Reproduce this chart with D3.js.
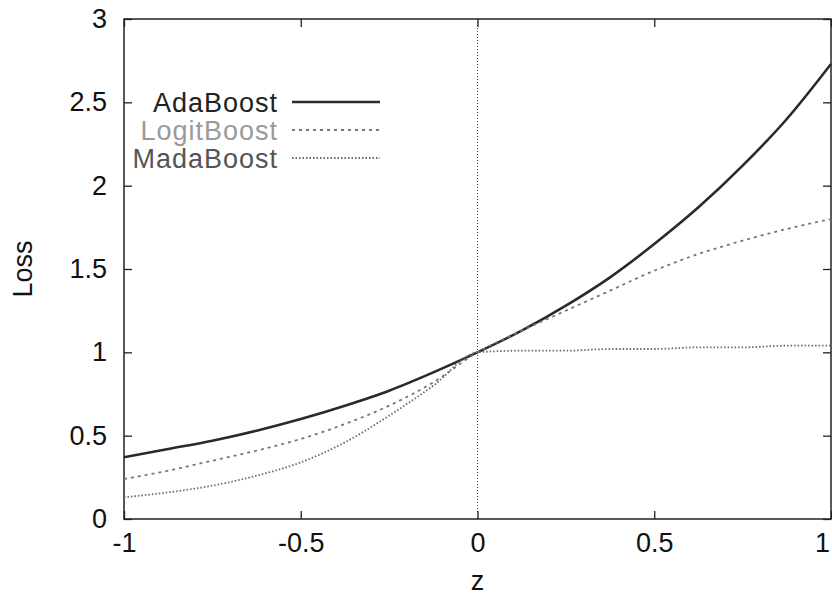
<!DOCTYPE html>
<html>
<head>
<meta charset="utf-8">
<script src="https://cdn.jsdelivr.net/npm/d3@7"></script>
<style>
  body { margin: 0; background: #fff; }
  text { font-family: "Liberation Sans", Arial, sans-serif; }
</style>
</head>
<body>
<div id="chart"></div>
<script>
// values
var zValues = [-1, -0.875, -0.75, -0.625, -0.5, -0.375, -0.25, -0.125, 0, 0.125, 0.25, 0.375, 0.5, 0.625, 0.75, 0.875, 1];
var adaBoost = [0.37, 0.42, 0.47, 0.53, 0.60, 0.68, 0.77, 0.88, 1.0, 1.13, 1.28, 1.45, 1.65, 1.87, 2.12, 2.40, 2.73];
var logitBoost = [0.24, 0.29, 0.35, 0.41, 0.48, 0.57, 0.68, 0.82, 1.0, 1.13, 1.25, 1.37, 1.49, 1.59, 1.67, 1.74, 1.80];
var madaBoost = [0.13, 0.16, 0.20, 0.26, 0.34, 0.46, 0.62, 0.80, 1.0, 1.01, 1.01, 1.02, 1.02, 1.03, 1.03, 1.04, 1.04];
var xTicks = [-1, -0.5, 0, 0.5, 1];
var yTicks = [0, 0.5, 1, 1.5, 2, 2.5, 3];
var seriesNames = ["AdaBoost", "LogitBoost", "MadaBoost"];

var margin = {top: 19, right: 1, bottom: 82, left: 124},
    width = 832 - margin.left - margin.right,
    height = 601 - margin.top - margin.bottom;

var x = d3.scaleLinear().domain([-1, 1]).range([0, width]);
var y = d3.scaleLinear().domain([0, 3]).range([height, 0]);

var svg = d3.select("#chart").append("svg")
    .attr("width", 832)
    .attr("height", 601)
    .append("g")
    .attr("transform", "translate(" + margin.left + "," + margin.top + ")");

var fmt = function(d) { return String(d); };

// bottom axis, ticks pointing inward
var xAxis = svg.append("g")
    .attr("transform", "translate(0," + height + ")")
    .call(d3.axisBottom(x).tickValues(xTicks).tickSizeInner(-8).tickSizeOuter(0).tickPadding(14).tickFormat(fmt));
// left axis
var yAxis = svg.append("g")
    .call(d3.axisLeft(y).tickValues(yTicks).tickSizeInner(-8).tickSizeOuter(0).tickPadding(17).tickFormat(fmt));
// mirrored ticks top / right
var xTop = svg.append("g")
    .call(d3.axisTop(x).tickValues(xTicks).tickSizeInner(-8).tickSizeOuter(0).tickFormat(""));
var yRight = svg.append("g")
    .attr("transform", "translate(" + width + ",0)")
    .call(d3.axisRight(y).tickValues(yTicks).tickSizeInner(-8).tickSizeOuter(0).tickFormat(""));

[xAxis, yAxis, xTop, yRight].forEach(function(g) {
    g.select(".domain").remove();
    g.selectAll("line").attr("stroke", "#222").attr("stroke-width", 1.3);
    g.selectAll("text").attr("font-size", 27).attr("fill", "#111")
        .attr("font-family", "'Liberation Sans', Arial, sans-serif");
});
// last label sits on the window edge, nudge it in so it stays whole
xAxis.selectAll("text").filter(function(d) { return d === 1; }).attr("dx", -9);

// zero line
svg.append("line")
    .attr("x1", x(0)).attr("x2", x(0))
    .attr("y1", 0).attr("y2", height)
    .attr("stroke", "#444")
    .attr("stroke-width", 1)
    .attr("stroke-dasharray", "1,2");

// frame
svg.append("rect")
    .attr("width", width)
    .attr("height", height)
    .attr("fill", "none")
    .attr("stroke", "#222")
    .attr("stroke-width", 1.5);

var styles = [
    {data: adaBoost, color: "#2a2a2a", width: 2.6, dash: null, text: "#222"},
    {data: logitBoost, color: "#777", width: 1.8, dash: "3,4", text: "#9a9a9a"},
    {data: madaBoost, color: "#6a6a6a", width: 1.8, dash: "1.5,2", text: "#555"}
];

var line = d3.line()
    .x(function(d, i) { return x(zValues[i]); })
    .y(function(d) { return y(d); })
    .curve(d3.curveMonotoneX);

styles.forEach(function(s) {
    svg.append("path")
        .datum(s.data)
        .attr("fill", "none")
        .attr("stroke", s.color)
        .attr("stroke-width", s.width)
        .attr("stroke-dasharray", s.dash)
        .attr("d", line);
});

// legend
var legend = svg.append("g").attr("transform", "translate(0,83)");
styles.forEach(function(s, i) {
    legend.append("text")
        .attr("x", 154)
        .attr("y", i * 28 + 10)
        .attr("text-anchor", "end")
        .attr("font-size", 27)
        .attr("letter-spacing", 1)
        .attr("fill", s.text)
        .text(seriesNames[i]);
    legend.append("line")
        .attr("x1", 168).attr("x2", 256)
        .attr("y1", i * 28).attr("y2", i * 28)
        .attr("stroke", s.color)
        .attr("stroke-width", s.width)
        .attr("stroke-dasharray", s.dash);
});

// axis titles
svg.append("text")
    .attr("x", x(0))
    .attr("y", height + 71)
    .attr("text-anchor", "middle")
    .attr("font-size", 27)
    .attr("fill", "#111")
    .text("z");

svg.append("text")
    .attr("transform", "translate(" + (-92) + "," + y(1.5) + ") rotate(-90)")
    .attr("text-anchor", "middle")
    .attr("font-size", 27)
    .attr("fill", "#111")
    .text("Loss");
</script>
</body>
</html>
